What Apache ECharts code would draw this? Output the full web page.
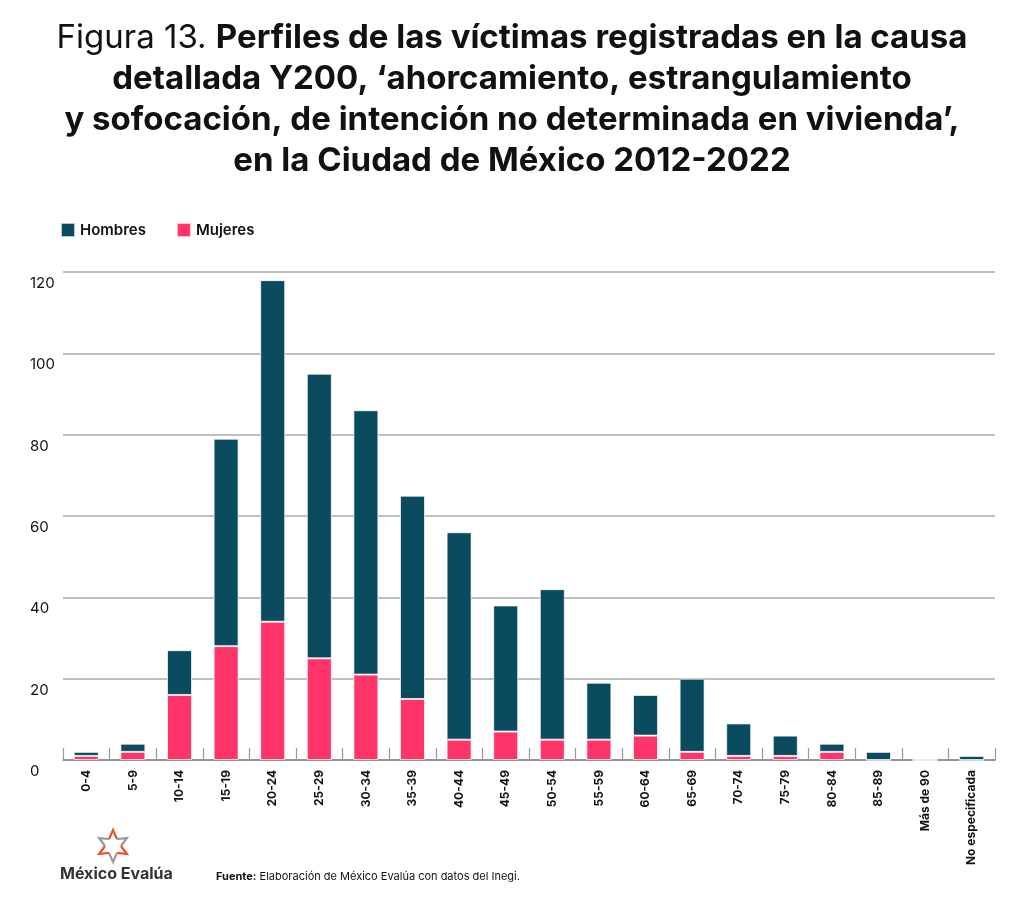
<!DOCTYPE html>
<html>
<head>
<meta charset="utf-8">
<script src="https://cdn.jsdelivr.net/npm/echarts@6/dist/echarts.min.js"></script>
<style>
  html, body { margin: 0; padding: 0; background: #fff; }
  #chart { width: 1024px; height: 903px; }
</style>
</head>
<body>
<div id="chart"></div>
<script>
// Grupos de edad y víctimas por sexo
const categorias = ['0-4', '5-9', '10-14', '15-19', '20-24', '25-29', '30-34', '35-39', '40-44', '45-49',
  '50-54', '55-59', '60-64', '65-69', '70-74', '75-79', '80-84', '85-89', 'Más de 90', 'No especificada']
const hombres = [1, 2, 11, 51, 84, 70, 65, 50, 51, 31, 37, 14, 10, 18, 8, 5, 2, 2, 0, 1]
const mujeres = [1, 2, 16, 28, 34, 25, 21, 15, 5, 7, 5, 5, 6, 2, 1, 1, 2, 0, 0, 0]

const FONT = 'Inter, "Noto Sans", sans-serif'
const AZUL = '#0b4b5f'
const ROSA = '#ff3569'

const chart = echarts.init(document.getElementById('chart'))

// contorno del logo: estrella de 6 puntas, tramos alternados naranja / gris
function logo(cx, cy, rOut, rIn) {
  const pts = []
  for (let i = 0; i < 12; i++) {
    const a = -Math.PI / 2 + i * Math.PI / 6
    const r = i % 2 === 0 ? rOut : rIn
    pts.push([cx + r * Math.cos(a), cy + r * Math.sin(a)])
  }
  const piezas = []
  for (let i = 0; i < 12; i += 2) {
    const seg = [pts[(i + 11) % 12], pts[i], pts[i + 1]]
    piezas.push({
      type: 'polyline',
      shape: { points: seg },
      style: { stroke: i % 4 === 0 ? '#f04e23' : '#9a9a9a', lineWidth: 2.2, fill: null }
    })
  }
  return piezas
}

chart.setOption({
  animation: false,
  backgroundColor: '#fff',
  legend: {
    data: ['Hombres', 'Mujeres'],
    left: 55,
    top: 217,
    itemWidth: 14,
    itemHeight: 14,
    itemGap: 30,
    icon: 'rect',
    textStyle: { fontFamily: FONT, fontSize: 15, fontWeight: 600, color: '#111' }
  },
  grid: { left: 63, right: 29, top: 272, bottom: 143, containLabel: false },
  xAxis: {
    type: 'category',
    data: categorias,
    axisLine: { lineStyle: { color: '#888', width: 1.5 } },
    axisTick: { show: true, inside: true, length: 12, lineStyle: { color: '#999', width: 1.2 } },
    axisLabel: {
      rotate: 90,
      interval: 0,
      margin: 10,
      fontFamily: FONT,
      fontSize: 12,
      fontWeight: 700,
      color: '#111'
    }
  },
  yAxis: {
    type: 'value',
    min: 0,
    max: 120,
    interval: 20,
    axisLine: { show: false },
    axisTick: { show: false },
    splitLine: { lineStyle: { color: '#aaa', width: 1.5 } },
    axisLabel: {
      align: 'left',
      margin: 33,
      verticalAlign: 'top',
      padding: [4, 0, 0, 0],
      fontFamily: FONT,
      fontSize: 15,
      color: '#111'
    }
  },
  series: [
    {
      name: 'Mujeres',
      type: 'bar',
      stack: 'total',
      data: mujeres,
      barWidth: 25,
      itemStyle: { color: ROSA, borderColor: 'rgba(255,255,255,0.7)', borderWidth: 1 }
    },
    {
      name: 'Hombres',
      type: 'bar',
      stack: 'total',
      data: hombres,
      barWidth: 25,
      itemStyle: { color: AZUL, borderColor: 'rgba(255,255,255,0.7)', borderWidth: 1 }
    }
  ],
  graphic: [
    {
      type: 'text',
      x: 512,
      y: 18,
      style: {
        text: '{r|Figura 13. }{b|Perfiles de las víctimas registradas en la causa}\n' +
          '{b|detallada Y200, ‘ahorcamiento, estrangulamiento}\n' +
          '{b|y sofocación, de intención no determinada en vivienda’,}\n' +
          '{b|en la Ciudad de México 2012-2022}',
        align: 'center',
        verticalAlign: 'top',
        rich: {
          r: { fontFamily: FONT, fontSize: 33, fontWeight: 400, fill: '#111', lineHeight: 41 },
          b: { fontFamily: FONT, fontSize: 33, fontWeight: 700, fill: '#111', lineHeight: 41 }
        }
      }
    },
    ...logo(113, 846, 16, 8),
    {
      type: 'text',
      left: 60,
      top: 866,
      style: { text: 'México Evalúa', fontFamily: FONT, fontSize: 16, fontWeight: 700, fill: '#333' }
    },
    {
      type: 'text',
      left: 216,
      top: 871,
      style: {
        text: '{b|Fuente:} Elaboración de México Evalúa con datos del Inegi.',
        fontFamily: FONT,
        fontSize: 11,
        fill: '#111',
        rich: { b: { fontFamily: FONT, fontSize: 11, fontWeight: 700, fill: '#111' } }
      }
    }
  ]
})
</script>
</body>
</html>
